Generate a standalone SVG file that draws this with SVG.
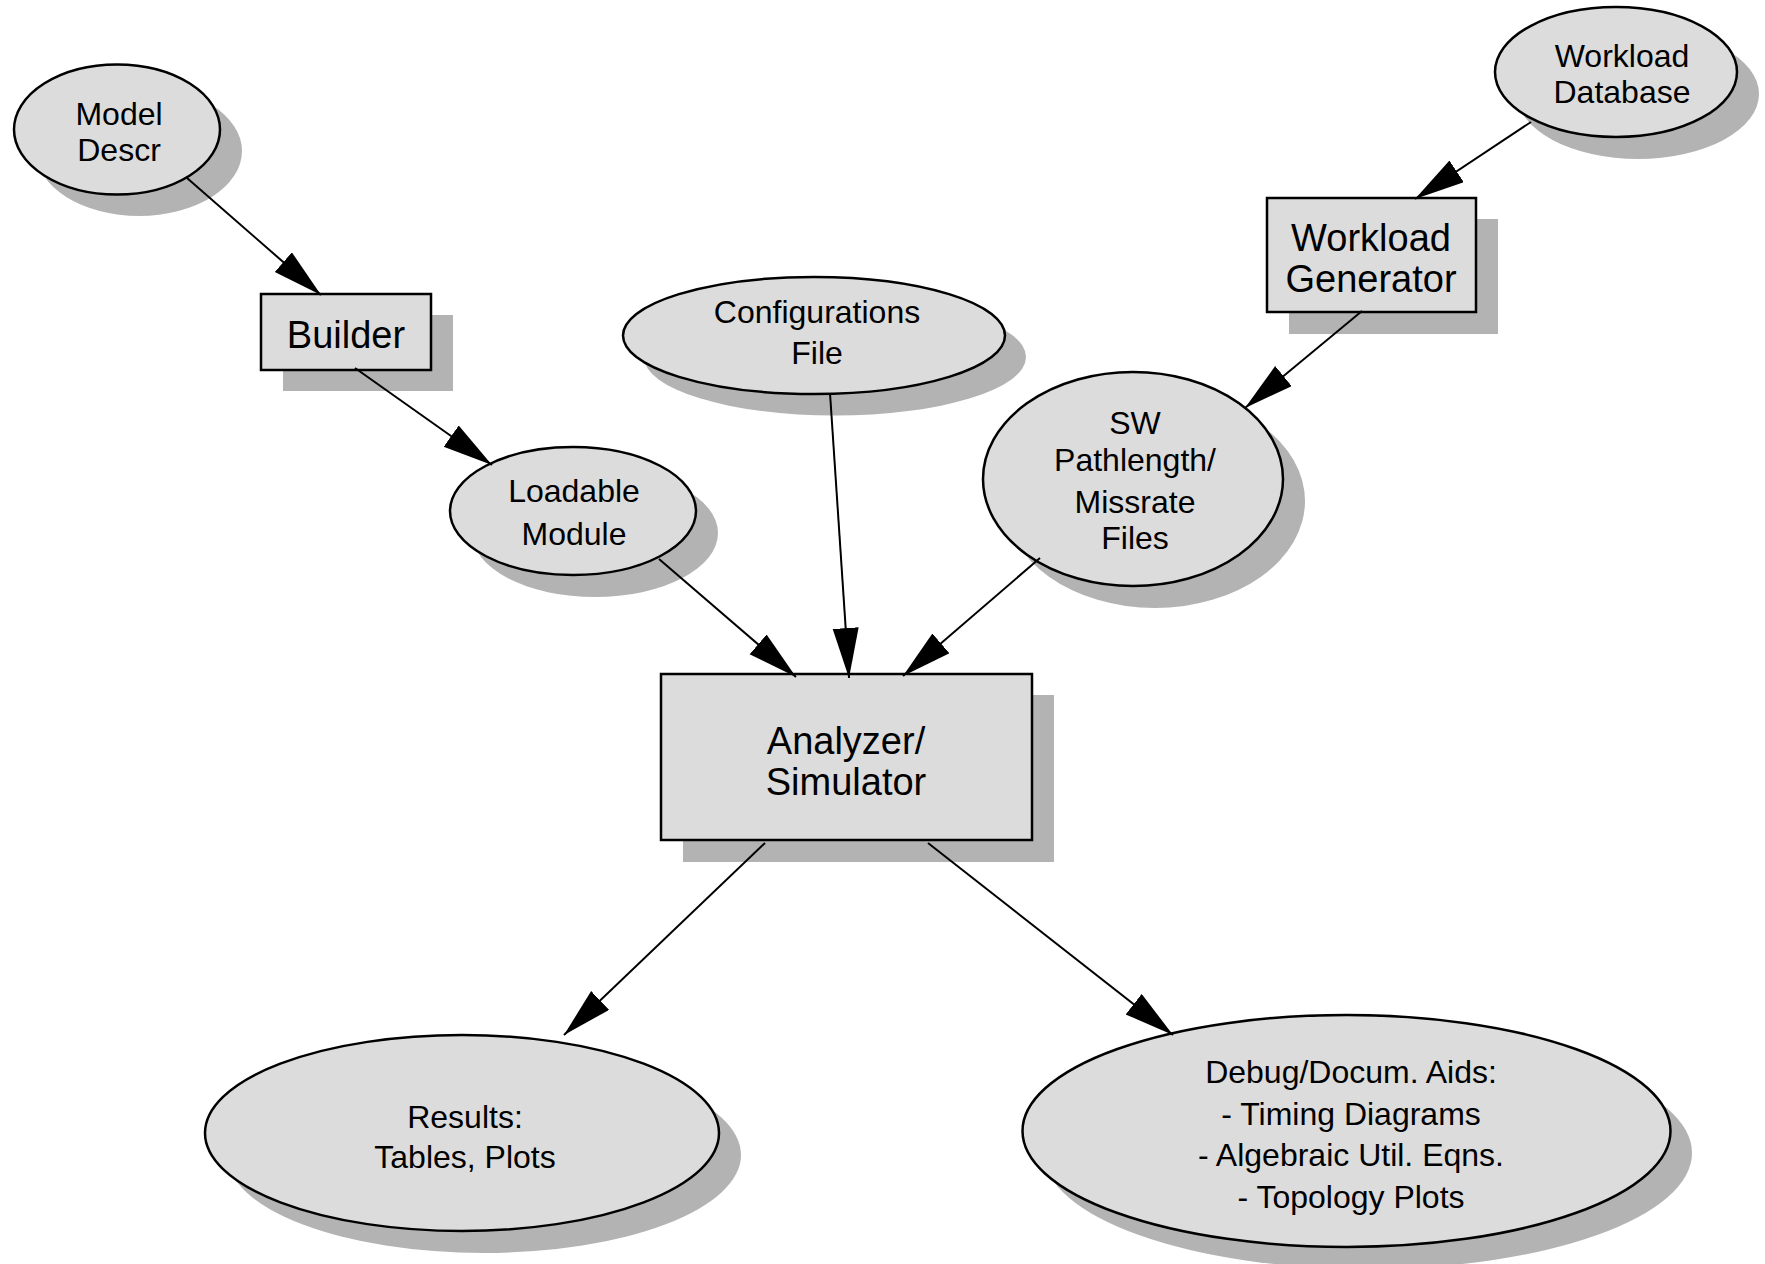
<svg xmlns="http://www.w3.org/2000/svg" width="1765" height="1264" viewBox="0 0 1765 1264">
<style>
.sh{fill:#b3b3b3;stroke:none}
.nd{fill:#dcdcdc;stroke:#000;stroke-width:2.5}
.t{font-family:"Liberation Sans",Arial,sans-serif;font-size:32px;fill:#000;text-anchor:middle}
.tb{font-family:"Liberation Sans",Arial,sans-serif;font-size:38px;fill:#000;text-anchor:middle}
.c{stroke:#000;stroke-width:2;fill:none;marker-end:url(#ah)}
</style>
<defs>
<marker id="ah" markerUnits="userSpaceOnUse" markerWidth="52" markerHeight="28" refX="50" refY="13" orient="auto">
<path d="M0,0 L50,13 L0,26 Z" fill="#000"/>
</marker>
</defs>
<rect width="1765" height="1264" fill="#fff"/>
<g id="model-descr">
<ellipse class="sh" cx="139" cy="151" rx="103" ry="65"/>
<ellipse class="nd" cx="117" cy="129.5" rx="103" ry="65"/>
<text class="t" x="119" y="125">Model</text>
<text class="t" x="119" y="161">Descr</text>
</g>
<g id="builder">
<rect class="sh" x="283" y="315" width="170" height="76"/>
<rect class="nd" x="261" y="294" width="170" height="76"/>
<text class="tb" x="346" y="348">Builder</text>
</g>
<g id="configurations-file">
<ellipse class="sh" cx="835" cy="357" rx="191" ry="58.5"/>
<ellipse class="nd" cx="814" cy="335.5" rx="191" ry="58.5"/>
<text class="t" x="817" y="323">Configurations</text>
<text class="t" x="817" y="364">File</text>
</g>
<g id="loadable-module">
<ellipse class="sh" cx="595" cy="533" rx="123" ry="64"/>
<ellipse class="nd" cx="573" cy="511" rx="123" ry="64"/>
<text class="t" x="574" y="502">Loadable</text>
<text class="t" x="574" y="545">Module</text>
</g>
<g id="sw-files">
<ellipse class="sh" cx="1155" cy="501" rx="150" ry="107"/>
<ellipse class="nd" cx="1133" cy="479" rx="150" ry="107"/>
<text class="t" x="1135" y="434">SW</text>
<text class="t" x="1135" y="471">Pathlength/</text>
<text class="t" x="1135" y="513">Missrate</text>
<text class="t" x="1135" y="549">Files</text>
</g>
<g id="workload-database">
<ellipse class="sh" cx="1638" cy="94" rx="121" ry="65"/>
<ellipse class="nd" cx="1616" cy="72" rx="121" ry="65"/>
<text class="t" x="1622" y="67">Workload</text>
<text class="t" x="1622" y="103">Database</text>
</g>
<g id="workload-generator">
<rect class="sh" x="1289" y="219" width="209" height="115"/>
<rect class="nd" x="1267" y="198" width="209" height="114"/>
<text class="tb" x="1371" y="251">Workload</text>
<text class="tb" x="1371" y="292">Generator</text>
</g>
<g id="analyzer-simulator">
<rect class="sh" x="683" y="695" width="371" height="167"/>
<rect class="nd" x="661" y="674" width="371" height="166"/>
<text class="tb" x="846" y="754">Analyzer/</text>
<text class="tb" x="846" y="795">Simulator</text>
</g>
<g id="results">
<ellipse class="sh" cx="484" cy="1155" rx="257" ry="98"/>
<ellipse class="nd" cx="462" cy="1133" rx="257" ry="98"/>
<text class="t" x="465" y="1128">Results:</text>
<text class="t" x="465" y="1168">Tables, Plots</text>
</g>
<g id="debug-aids">
<ellipse class="sh" cx="1368" cy="1153" rx="324" ry="116"/>
<ellipse class="nd" cx="1346.5" cy="1131" rx="324" ry="116"/>
<text class="t" x="1351" y="1083">Debug/Docum. Aids:</text>
<text class="t" x="1351" y="1125">- Timing Diagrams</text>
<text class="t" x="1351" y="1166">- Algebraic Util. Eqns.</text>
<text class="t" x="1351" y="1208">- Topology Plots</text>
</g>
<g id="connectors">
<line class="c" x1="187" y1="178" x2="321" y2="295"/>
<line class="c" x1="355" y1="368" x2="492" y2="465"/>
<line class="c" x1="659" y1="559" x2="796" y2="677"/>
<line class="c" x1="830" y1="393" x2="849" y2="678"/>
<line class="c" x1="1040" y1="558" x2="903" y2="676"/>
<line class="c" x1="1531" y1="122" x2="1415" y2="199"/>
<line class="c" x1="1362" y1="311" x2="1245" y2="408"/>
<line class="c" x1="765" y1="843" x2="564" y2="1035"/>
<line class="c" x1="928" y1="843" x2="1173" y2="1035"/>
</g>
</svg>
